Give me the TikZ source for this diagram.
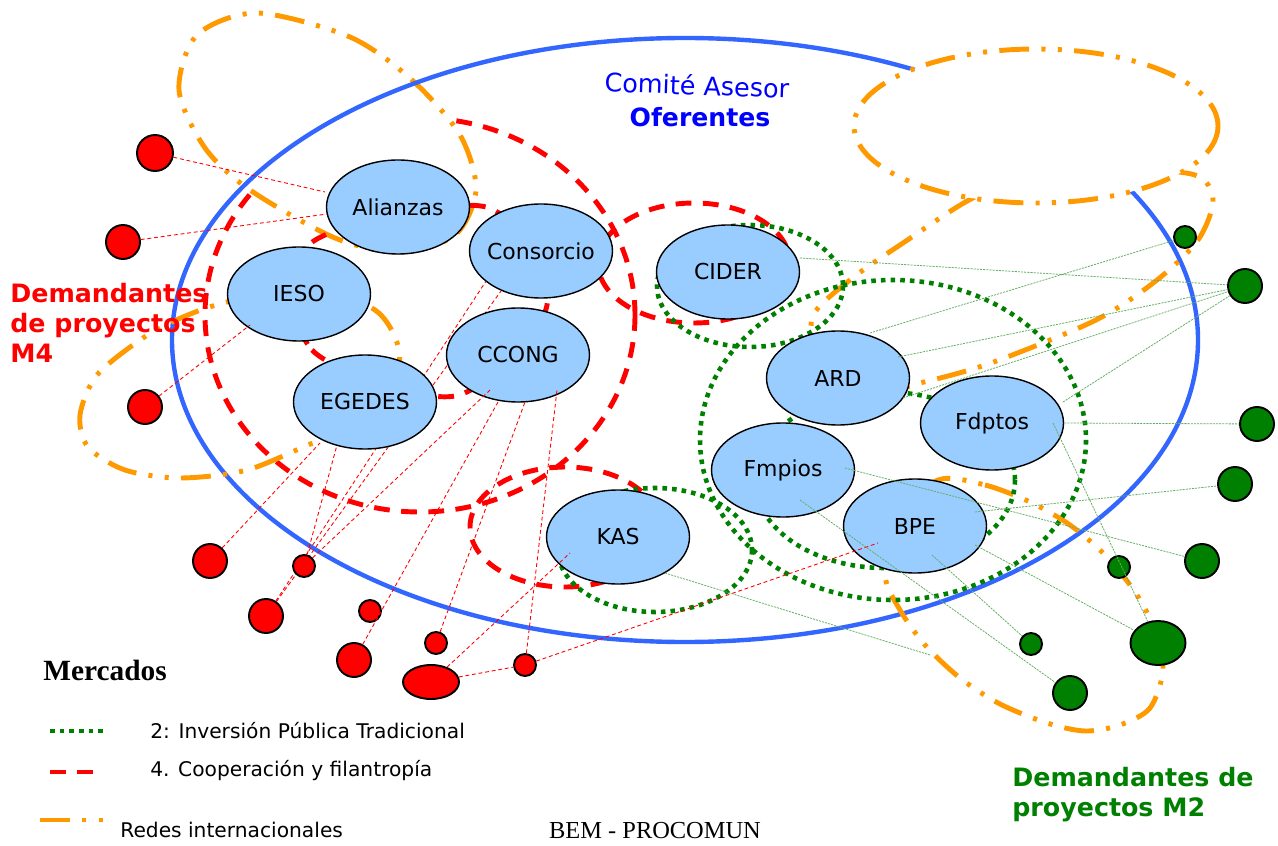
\documentclass[tikz,border=0pt]{standalone}
\usepackage{fontspec}
\setmainfont{DejaVu Sans}
\newfontfamily\timesfont{Liberation Serif}
\usetikzlibrary{shapes.geometric}

\definecolor{nodefill}{RGB}{153,204,255}
\definecolor{ringblue}{RGB}{51,102,255}
\definecolor{textblue}{RGB}{0,0,255}
\definecolor{mkred}{RGB}{255,0,0}
\definecolor{mkgreen}{RGB}{0,128,0}
\definecolor{mkorange}{RGB}{255,153,0}
\definecolor{linkgreen}{RGB}{100,175,100}

\pgfdeclarelayer{bg}
\pgfsetlayers{bg,main}

\tikzset{
  actor/.style={ellipse,draw=black,line width=0.8pt,fill=nodefill,
    minimum width=28.6mm,minimum height=18.8mm,inner xsep=-3pt,inner ysep=0pt,
    font=\fontsize{12.5}{15}\selectfont},
  redball/.style={circle,draw=black,line width=1.1pt,fill=mkred,inner sep=0pt},
  greenball/.style={circle,draw=black,line width=1.1pt,fill=mkgreen,inner sep=0pt},
  coop/.style={draw=mkred,line width=2.8pt,dash pattern=on 9pt off 6.5pt},
  inversion/.style={draw=mkgreen,line width=2.6pt,dash pattern=on 2.6pt off 2.9pt},
  redes/.style={draw=mkorange,line width=2.8pt,
    dash pattern=on 17pt off 7pt on 2.3pt off 7pt on 2.3pt off 7pt},
  redlink/.style={draw=mkred,line width=0.5pt,dash pattern=on 2.2pt off 1.6pt},
  greenlink/.style={draw=linkgreen,line width=0.45pt,dash pattern=on 1.2pt off 0.6pt},
  demand/.style={anchor=north west,inner sep=0pt,align=left,
    font=\bfseries\fontsize{14.4}{17}\selectfont},
  legend/.style={anchor=west,inner sep=0pt,font=\fontsize{11.5}{14}\selectfont}
}

\begin{document}
\begin{tikzpicture}[x=0.2mm,y=-0.2mm]
  \useasboundingbox (0,0) rectangle (1278,846);

  \node[actor] (alianzas)  at (398,207) {Alianzas};
  \node[actor] (consorcio) at (541,251) {Consorcio};
  \node[actor] (ieso)      at (299,294) {IESO};
  \node[actor] (egedes)    at (365,402) {EGEDES};
  \node[actor] (ccong)     at (518,355) {CCONG};
  \node[actor] (cider)     at (728,272) {CIDER};
  \node[actor] (ard)       at (838,378) {ARD};
  \node[actor] (fdptos)    at (992,423) {Fdptos};
  \node[actor] (fmpios)    at (783,470) {Fmpios};
  \node[actor] (bpe)       at (915,526) {BPE};
  \node[actor] (kas)       at (618,537) {KAS};

  % demandantes M4
  \node[redball,minimum size=7.2mm] (m4a) at (155,153) {};
  \node[redball,minimum size=6.8mm] (m4b) at (123,242) {};
  \node[redball,minimum size=6.8mm] (m4c) at (145,407) {};
  \node[redball,minimum size=6.8mm] (m4d) at (210,561) {};
  \node[redball,minimum size=4.4mm] (m4e) at (304,566) {};
  \node[redball,minimum size=6.8mm] (m4f) at (266,616) {};
  \node[redball,minimum size=4.4mm] (m4g) at (370,611) {};
  \node[redball,minimum size=6.8mm] (m4h) at (354,660) {};
  \node[redball,minimum size=4.4mm] (m4i) at (436,643) {};
  \node[redball,ellipse,minimum width=11.2mm,minimum height=6.8mm] (m4j) at (431,682) {};
  \node[redball,minimum size=4.4mm] (m4k) at (525,665) {};

  % demandantes M2
  \node[greenball,minimum size=4.4mm] (m2a) at (1185,237) {};
  \node[greenball,minimum size=6.8mm] (m2b) at (1245,286) {};
  \node[greenball,minimum size=6.8mm] (m2c) at (1257,424) {};
  \node[greenball,minimum size=6.8mm] (m2d) at (1235,484) {};
  \node[greenball,minimum size=6.8mm] (m2e) at (1202,561) {};
  \node[greenball,minimum size=4.4mm] (m2f) at (1119,567) {};
  \node[greenball,ellipse,minimum width=11mm,minimum height=8.8mm] (m2g) at (1158,643) {};
  \node[greenball,minimum size=4.4mm] (m2h) at (1031,644) {};
  \node[greenball,minimum size=6.8mm] (m2i) at (1070,693) {};
  \coordinate (kasend) at (930,655);

  \begin{pgfonlayer}{bg}
    \fill[white] (0,0) rectangle (1278,846);
    \draw[coop] (420,315) ellipse [x radius=215,y radius=197];
    \filldraw[redes,fill=white] plot[smooth cycle] coordinates {(257,13) (350,37) (412,80)
      (460,135) (476,190) (455,235) (400,252) (335,238) (250,190) (205,148) (179,90) (197,35)};
    \draw[coop] plot[smooth cycle] coordinates {(311,243) (312,350) (455,396) (547,305) (486,207)};
    \draw[ringblue,line width=2.5pt] (685,340) ellipse [x radius=513,y radius=302];
    \draw[redes] plot[smooth cycle] coordinates {(227,302) (300,288) (370,307) (394,335)
      (398,368) (365,425) (313,443) (247,470) (180,478) (125,470) (88,447) (80,415)
      (97,375) (143,338) (183,317)};
    \draw[redes] plot[smooth cycle] coordinates {(1030,185) (975,197) (903,243) (850,280)
      (812,318) (825,365) (880,390) (924,382) (991,363) (1096,320) (1157,280) (1198,240)
      (1213,200) (1195,175) (1120,170)};
    \draw[redes] plot[smooth cycle] coordinates {(938,480) (985,485) (1030,502) (1070,525)
      (1105,555) (1135,592) (1155,630) (1163,670) (1150,708) (1120,725) (1085,731)
      (1047,723) (1000,704) (960,678) (925,645) (900,610) (885,575) (895,520)};
    \filldraw[redes,fill=white] (1036,126) ellipse [x radius=182,y radius=77];
    \draw[coop] (694,263) ellipse [x radius=96,y radius=60];
    \draw[coop] (565,527) ellipse [x radius=95,y radius=60];
    \draw[inversion] (750,286) ellipse [x radius=93,y radius=61];
    \draw[inversion] (893,440) ellipse [x radius=193,y radius=160];
    \draw[inversion] (885,480) ellipse [x radius=130,y radius=88];
    \draw[inversion] (655,550) ellipse [x radius=97,y radius=62];
    \path[redlink]
      (m4f) edge (consorcio.209)
      (m4f) edge (consorcio.225);
  \end{pgfonlayer}

  \path[redlink]
    (m4a) edge ([shift={(-73,-15)}]alianzas.center)
    (m4b) edge ([shift={(-71,7)}]alianzas.center)
    (m4c) edge ([shift={(-49,31)}]ieso.center)
    (m4d) edge ([shift={(-45,41)}]egedes.center)
    (m4e) edge ([shift={(-28,43)}]egedes.center)
    (m4e) edge ([shift={(-28,35)}]ccong.center)
    (m4h) edge ([shift={(-20,47)}]ccong.center)
    (m4i) edge ([shift={(7,47)}]ccong.center)
    (m4k) edge ([shift={(39,35)}]ccong.center)
    (m4j) edge ([shift={(-48,16)}]kas.center)
    (m4j) edge (m4k)
    (m4k) edge ([shift={(-37,17)}]bpe.center);

  \path[greenlink]
    ([shift={(72,-14)}]cider.center) edge (m2b)
    ([shift={(60,-21)}]ard.center) edge (m2b)
    ([shift={(65,20)}]ard.center) edge (m2b)
    ([shift={(71,-21)}]fdptos.center) edge (m2b)
    ([shift={(32,-45)}]ard.center) edge (m2a)
    (fdptos.east) edge (m2c)
    ([shift={(60,-14)}]bpe.center) edge (m2d)
    ([shift={(62,-2)}]fmpios.center) edge (m2e)
    ([shift={(61,0)}]fdptos.center) edge (m2g)
    ([shift={(60,19)}]bpe.center) edge (m2g)
    ([shift={(17,29)}]bpe.center) edge (m2h)
    ([shift={(17,30)}]fmpios.center) edge (m2i)
    ([shift={(47,36)}]kas.center) edge (kasend);

  \node[text=textblue,font=\fontsize{14.5}{17}\selectfont,rotate=-2] (comite) at (697,85) {Comité Asesor};
  \node[text=textblue,font=\bfseries\fontsize{14.3}{17}\selectfont] (oferentes) at (700,117) {Oferentes};
  \node[demand,text=mkred] (demM4) at (10,283) {Demandantes\\de proyectos\\M4};
  \node[demand,text=mkgreen] (demM2) at (1012,767) {Demandantes de\\proyectos M2};

  % mercados
  \node[anchor=west,inner sep=0pt,font=\timesfont\bfseries\fontsize{16.7}{20}\selectfont] (mercados) at (43,670) {Mercados};
  \draw[inversion] (50,731) -- (106,731);
  \draw[coop] (50,772) -- (98,772);
  \draw[redes] (40,820) -- (104,820);
  \node[legend] (leg2) at (150,731) {2: Inversión Pública Tradicional};
  \node[legend] (leg4) at (150,771) {4. Cooperación y filantropía};
  \node[legend] (legR) at (120,830) {Redes internacionales};
  \node[font=\timesfont\fontsize{13.9}{16}\selectfont] (bem) at (655,831) {BEM - PROCOMUN};
\end{tikzpicture}
\end{document}
